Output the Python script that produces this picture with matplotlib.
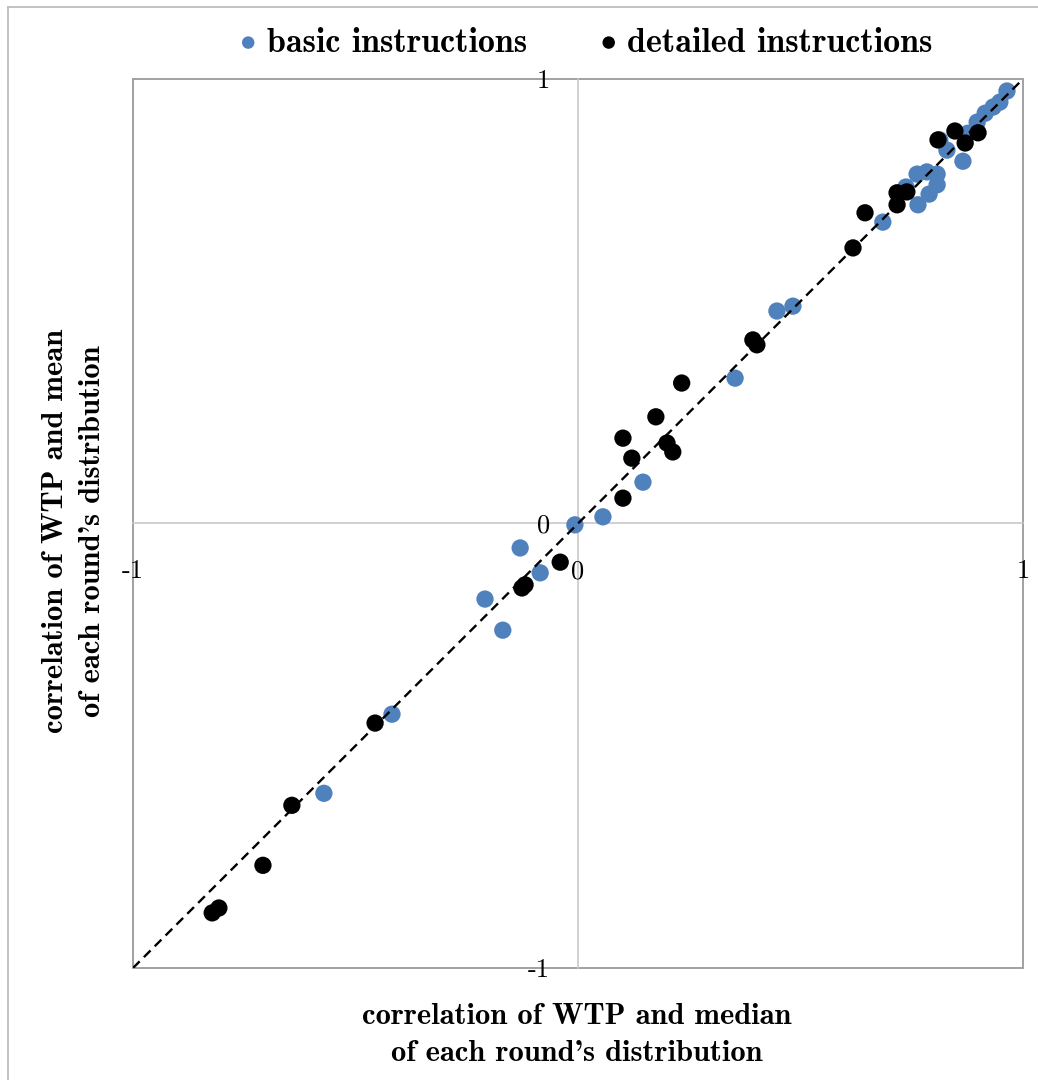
import matplotlib
matplotlib.use("Agg")
import matplotlib.pyplot as plt
from matplotlib.lines import Line2D
from matplotlib.patches import Rectangle

# ---- data ----
basic_x = [0.964, 0.948, 0.933, 0.915, 0.897, 0.876, 0.829, 0.865, 0.813, 0.762,
           0.784, 0.807, 0.807, 0.789, 0.764, 0.737, 0.685, 0.483, 0.447, 0.353,
           0.146, 0.056, -0.007, -0.130, -0.085, -0.209, -0.169, -0.418, -0.571]
basic_y = [0.973, 0.948, 0.937, 0.923, 0.903, 0.878, 0.840, 0.815, 0.863, 0.786,
           0.791, 0.786, 0.762, 0.741, 0.717, 0.757, 0.678, 0.489, 0.478, 0.327,
           0.093, 0.015, -0.003, -0.055, -0.111, -0.170, -0.240, -0.429, -0.607]

detailed_x = [0.645, 0.717, 0.739, 0.717, 0.809, 0.847, 0.870, 0.899, 0.618, 0.393,
              0.402, 0.233, 0.175, 0.101, 0.121, 0.200, 0.213, 0.101, -0.040, -0.126,
              -0.119, -0.456, -0.643, -0.708, -0.822, -0.807]
detailed_y = [0.699, 0.744, 0.746, 0.717, 0.863, 0.883, 0.856, 0.879, 0.620, 0.413,
              0.402, 0.316, 0.240, 0.192, 0.147, 0.181, 0.161, 0.057, -0.087, -0.145,
              -0.138, -0.449, -0.634, -0.769, -0.876, -0.865]

series_labels = ["basic instructions", "detailed instructions"]
tick_values = [-1, 0, 1]
tick_labels = ["-1", "0", "1"]
x_label = "correlation of WTP and median\nof each round's distribution"
y_label = "correlation of WTP and mean\nof each round's distribution"

BLUE = "#4F81BD"
W, H = 1038, 1080
fig = plt.figure(figsize=(W / 100, H / 100), dpi=100)
ax = fig.add_axes([133 / W, 1 - 968 / H, 890 / W, 889 / H])

ax.set_xlim(-1, 1)
ax.set_ylim(-1, 1)

ax.scatter(basic_x, basic_y, s=155, color=BLUE, edgecolors="none", zorder=3,
           label=series_labels[0])
ax.scatter(detailed_x, detailed_y, s=155, color="black", edgecolors="none", zorder=4,
           label=series_labels[1])
ax.plot([-1, 1], [-1, 1], color="black", lw=1.7, linestyle=(0, (4, 2.5)), zorder=5)

# center axes (Excel-style crossing at zero)
ax.spines["left"].set_position(("data", 0))
ax.spines["bottom"].set_position(("data", 0))
for s in ("left", "bottom"):
    ax.spines[s].set_color("#C8C8C8")
    ax.spines[s].set_linewidth(1.2)
    ax.spines[s].set_zorder(1)
for s in ("top", "right"):
    ax.spines[s].set_visible(False)
ax.add_patch(Rectangle((0, 0), 1, 1, transform=ax.transAxes, fill=False,
                       edgecolor="#9A9A9A", lw=1.3, clip_on=False, zorder=1))

ax.set_xticks(tick_values)
ax.set_xticklabels(tick_labels)
ax.set_yticks(tick_values)
ax.set_yticklabels(tick_labels)
ax.tick_params(axis="x", length=0, pad=26, labelsize=19)
ax.tick_params(axis="y", length=0, pad=20, labelsize=19)
for lab in ax.get_xticklabels() + ax.get_yticklabels():
    lab.set_family("cmr10")

# axis titles
fig.text(577 / W, 1 - 1035 / H, x_label, ha="center", va="center",
         family="cmb10", fontsize=22, linespacing=1.5)
fig.text(74 / W, 1 - 531 / H, y_label, ha="center", va="center", rotation=90,
         family="cmb10", fontsize=22, linespacing=1.5)

# legend
fig.legend(loc="center", bbox_to_anchor=(582 / W, 1 - 43 / H), ncol=2, frameon=False,
           prop={"family": "cmb10", "size": 24.5}, markerscale=0.72,
           handletextpad=0.05, columnspacing=1.9, handlelength=1.0)

# outer chart border (top and left visible)
fig.add_artist(Line2D([8 / W, 1], [1 - 7 / H, 1 - 7 / H], color="#BDBDBD", lw=1.3))
fig.add_artist(Line2D([8 / W, 8 / W], [0, 1 - 7 / H], color="#BDBDBD", lw=1.3))

fig.savefig("out.png", dpi=100)
